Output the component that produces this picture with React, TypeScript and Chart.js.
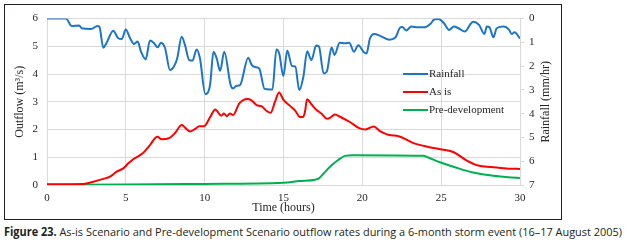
import React, { useEffect, useLayoutEffect, useRef } from "react";
import { Chart, registerables } from "chart.js";

Chart.register(...registerables);

// ---- data ----
const rainHours = [
  0, 1.2, 1.57, 2.04, 2.2, 2.8, 3.2, 3.32, 3.57, 3.77, 4.2, 4.52, 4.74, 5.0, 5.27, 5.52, 5.75, 5.96, 6.26, 6.53,
  6.79, 7.02, 7.23, 7.49, 7.8, 8.05, 8.26, 8.54, 8.75, 9.02, 9.23, 9.49, 9.7, 10.04, 10.34, 10.56, 10.76, 10.98,
  11.24, 11.65, 11.8, 12.02, 12.24, 12.76, 12.99, 13.19, 13.46, 13.8, 14.14, 14.3, 14.55, 14.73, 14.99, 15.24,
  15.54, 15.75, 16.0, 16.26, 16.5, 16.77, 17.07, 17.25, 17.54, 17.74, 18.05, 18.24, 18.56, 18.9, 19.17, 19.47,
  19.74, 20.1, 20.27, 20.48, 20.77, 21.1, 21.7, 22.1, 22.4, 22.53, 22.78, 23.11, 23.55, 23.97, 24.33, 24.56,
  24.82, 25.18, 25.5, 25.81, 26.1, 26.5, 26.9, 27.03, 27.4, 27.74, 27.9, 28.05, 28.32, 28.52, 28.98, 29.3, 29.47,
  29.65, 30,
];
const rainValues = [
  0, 0, 0.32, 0.29, 0.41, 0.44, 0.32, 0.34, 1.23, 1.04, 0.51, 0.83, 0.86, 0.46, 0.83, 1.07, 0.97, 1.39, 1.72, 0.93,
  1.04, 1.21, 1.02, 1.25, 2.17, 2.02, 1.67, 0.77, 1.11, 1.75, 1.77, 1.3, 1.67, 3.17, 2.8, 1.4, 1.67, 2.2,
  1.4, 2.8, 2.94, 2.83, 2.8, 1.65, 1.96, 2.04, 2.1, 2.96, 2.98, 2.98, 1.3, 1.47, 2.42, 1.35,
  2.0, 2.02, 3.01, 2.45, 1.38, 1.75, 1.14, 1.18, 2.31, 2.24, 1.22, 1.53, 1.02, 1.04, 1.02, 1.4,
  1.12, 1.42, 1.47, 0.84, 0.65, 0.72, 0.89, 0.8, 0.38, 0.36, 0.5, 0.34, 0.37, 0.37, 0.22, 0.04,
  0.02, 0.2, 0.48, 0.34, 0.41, 0.55, 0.2, 0.14, 0.27, 0.65, 0.34, 0.36, 0.79, 0.41, 0.34, 0.47, 0.65,
  0.58, 0.84,
];

const asIsHours = [
  0, 2.3, 2.94, 3.57, 4.0, 4.42, 4.84, 5.16, 5.47, 6.07, 6.53, 7.0, 7.27, 7.75, 8.1, 8.55, 8.8, 9.08, 9.4, 9.66,
  9.96, 10.35, 10.67, 11.05, 11.22, 11.4, 11.6, 11.8, 12.2, 12.7, 12.95, 13.3, 13.6, 13.95, 14.18, 14.46, 14.72,
  15.0, 15.4, 15.73, 16.05, 16.25, 16.36, 16.5, 16.78, 17.1, 17.42, 17.74, 17.95, 18.26, 18.58, 19.21, 19.8,
  20.2, 20.72, 21.12, 21.7, 22.3, 23.25, 24.12, 25.05, 25.8, 26.6, 27.35, 28.2, 29.3, 30,
];
const asIsValues = [
  0.03, 0.04, 0.12, 0.22, 0.3, 0.48, 0.6, 0.78, 0.93, 1.14, 1.44, 1.74, 1.65, 1.69, 1.86, 2.16, 2.04, 1.93, 2.02, 2.12,
  2.12, 2.45, 2.72, 2.5, 2.58, 2.48, 2.58, 2.52, 2.94, 3.1, 3.06, 2.88, 2.84, 2.66, 2.6, 3.0, 3.33,
  3.07, 2.86, 2.69, 2.45, 2.45, 2.64, 3.09, 2.9, 2.7, 2.57, 2.39, 2.42, 2.54, 2.46, 2.27, 2.05,
  2.0, 2.11, 1.94, 1.8, 1.76, 1.51, 1.38, 1.28, 1.18, 0.89, 0.7, 0.65, 0.59, 0.58,
];

const preHours = [0, 5, 10, 15, 16, 17, 17.25, 17.55, 17.95, 18.47, 18.9, 19.4, 23.87, 24.18, 24.92, 25.98, 27.03, 28.3, 30];
const preValues = [0.01, 0.02, 0.04, 0.08, 0.14, 0.19, 0.24, 0.42, 0.66, 0.9, 1.05, 1.07, 1.05, 0.99, 0.82, 0.62, 0.45, 0.33, 0.25];

const seriesLabels = ["Rainfall", "As is", "Pre-development"];
const seriesColors = ["#1c75c8", "#ff0000", "#00b050"];
const xTitle = "Time (hours)";
const yTitle = "Outflow (m\u00b3/s)";
const y1Title = "Rainfall (mm/hr)";
const captionBold = "Figure 23.";
const captionRest = " As-is Scenario and Pre-development Scenario outflow rates during a 6-month storm event (16\u201317 August 2005)";

const toPoints = (xs: number[], ys: number[]) => xs.map((x, i) => ({ x, y: ys[i] }));

const SERIF = '"Liberation Serif", "Times New Roman", serif';
const GRID = "#d9d9d9";
const TEXT = "#262626";

const overlayPlugin = {
  id: "overlayText",
  afterDraw(chart: any) {
    const { ctx, chartArea } = chart;
    const { left, right, top, bottom } = chartArea;
    const midY = (top + bottom) / 2;
    ctx.save();
    ctx.fillStyle = TEXT;
    ctx.textAlign = "center";
    ctx.textBaseline = "middle";
    ctx.font = `12px ${SERIF}`;
    ctx.fillText(xTitle, (left + right) / 2, bottom + 23);

    ctx.save();
    ctx.translate(left - 27, midY);
    ctx.rotate(-Math.PI / 2);
    ctx.fillText(yTitle, 0, 0);
    ctx.restore();

    ctx.save();
    ctx.translate(right + 26, midY);
    ctx.rotate(-Math.PI / 2);
    ctx.fillText(y1Title, 0, 0);
    ctx.restore();

    // legend
    ctx.font = `11px ${SERIF}`;
    ctx.textAlign = "left";
    chart.data.datasets.forEach((ds: any, i: number) => {
      const y = top + 55.5 + i * 18;
      const x0 = right - 117;
      ctx.strokeStyle = ds.borderColor;
      ctx.lineWidth = 2;
      ctx.beginPath();
      ctx.moveTo(x0, y);
      ctx.lineTo(x0 + 25, y);
      ctx.stroke();
      ctx.fillStyle = TEXT;
      ctx.fillText(ds.label, x0 + 26, y + 0.5);
    });
    ctx.restore();
  },
};

export default function App() {
  const canvasRef = useRef<HTMLCanvasElement | null>(null);
  const capRef = useRef<HTMLDivElement | null>(null);

  useLayoutEffect(() => {
    const el = capRef.current;
    if (!el) return;
    el.style.transform = "none";
    const w = el.getBoundingClientRect().width;
    if (w > 0) el.style.transform = `scaleX(${618 / w})`;
  }, []);

  useEffect(() => {
    const canvas = canvasRef.current;
    if (!canvas) return;
    const tickFont = { family: SERIF, size: 11 };
    const chart = new Chart(canvas, {
      type: "line",
      data: {
        datasets: [
          {
            label: seriesLabels[0],
            data: toPoints(rainHours, rainValues),
            yAxisID: "y1",
            borderColor: seriesColors[0],
            borderWidth: 2,
            pointRadius: 0,
            cubicInterpolationMode: "monotone",
            fill: false,
          },
          {
            label: seriesLabels[1],
            data: toPoints(asIsHours, asIsValues),
            yAxisID: "y",
            borderColor: seriesColors[1],
            borderWidth: 2,
            pointRadius: 0,
            cubicInterpolationMode: "monotone",
            fill: false,
          },
          {
            label: seriesLabels[2],
            data: toPoints(preHours, preValues),
            yAxisID: "y",
            borderColor: seriesColors[2],
            borderWidth: 2,
            pointRadius: 0,
            cubicInterpolationMode: "monotone",
            fill: false,
          },
        ],
      },
      options: {
        responsive: false,
        animation: false,
        devicePixelRatio: 1,
        parsing: true,
        layout: { padding: { left: 0, right: 0, top: 18.5, bottom: 0 } },
        plugins: { legend: { display: false }, tooltip: { enabled: false }, title: { display: false } },
        scales: {
          x: {
            type: "linear",
            min: 0,
            max: 30,
            ticks: { stepSize: 5, font: tickFont, color: TEXT, padding: 7, maxRotation: 0 },
            grid: { color: GRID, drawTicks: false },
            border: { color: GRID },
            afterFit: (s: any) => {
              s.height = 37;
            },
          },
          y: {
            position: "left",
            min: 0,
            max: 6,
            ticks: { stepSize: 1, font: tickFont, color: TEXT, padding: 9 },
            grid: { color: GRID, drawTicks: false },
            border: { color: GRID },
            afterFit: (s: any) => {
              s.width = 47;
            },
          },
          y1: {
            position: "right",
            min: 0,
            max: 7,
            reverse: true,
            ticks: { stepSize: 1, font: tickFont, color: TEXT, padding: 5 },
            grid: { drawOnChartArea: false, color: GRID, tickLength: 4 },
            border: { color: GRID },
            afterFit: (s: any) => {
              s.width = 105;
            },
          },
        },
      },
      plugins: [overlayPlugin],
    } as any);
    return () => chart.destroy();
  }, []);

  return (
    <div style={{ position: "fixed", left: 0, top: 0, width: 625, height: 247, background: "#fff", overflow: "hidden" }}>
      <div
        style={{
          position: "absolute",
          left: 4,
          top: 4,
          width: 558,
          height: 216,
          boxSizing: "border-box",
          border: "1px solid #231f20",
        }}
      />
      <canvas
        ref={canvasRef}
        width={625}
        height={222}
        style={{ position: "absolute", left: 0, top: 0, width: 625, height: 222 }}
      />
      <div
        ref={capRef}
        style={{
          position: "absolute",
          left: 4,
          top: 224,
          whiteSpace: "nowrap",
          fontFamily: '"Open Sans", "Noto Sans", sans-serif',
          fontSize: 11.5,
          lineHeight: "16px",
          color: "#231f20",
          transformOrigin: "0 0",
        }}
      >
        <b>{captionBold}</b>
        {captionRest}
      </div>
    </div>
  );
}
